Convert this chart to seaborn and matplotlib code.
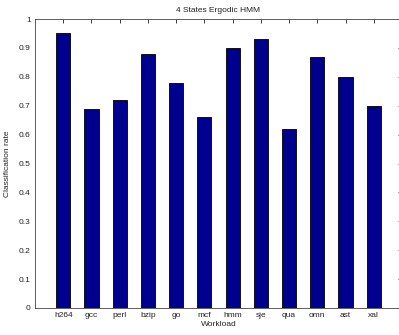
import matplotlib
matplotlib.use("Agg")
import matplotlib.pyplot as plt
import seaborn as sns
import pandas as pd

workloads = ["h264", "gcc", "perl", "bzip", "go", "mcf",
             "hmm", "sje", "qua", "omn", "ast", "xal"]
rates = [0.95, 0.69, 0.72, 0.88, 0.78, 0.66,
         0.90, 0.93, 0.62, 0.87, 0.80, 0.70]
yticks = [0, 0.1, 0.2, 0.3, 0.4, 0.5, 0.6, 0.7, 0.8, 0.9, 1]

sns.set_style("white")
plt.rcParams["font.family"] = ["Liberation Sans", "DejaVu Sans"]

df = pd.DataFrame({"Workload": workloads, "rate": rates})

fig = plt.figure(figsize=(3.99, 3.35), dpi=100)
ax = fig.add_axes([35 / 399, 1 - 308 / 335, 367 / 399, 289 / 335])

sns.barplot(data=df, x="Workload", y="rate", ax=ax, width=0.5,
            color="#00008F", saturation=1, edgecolor="black", linewidth=0.6)

ax.set_xlim(-1, 12)
ax.set_ylim(0, 1)
ax.set_yticks(yticks)
ax.set_yticklabels([f"{t:g}" for t in yticks])
ax.set_xticks(range(len(workloads)))
ax.set_xticklabels(workloads)

ax.tick_params(axis="both", direction="in", length=3, width=0.6,
               labelsize=6, top=True, right=True, pad=3, colors="#222222")
for s in ax.spines.values():
    s.set_visible(True)
    s.set_linewidth(0.6)
    s.set_color("#444444")

ax.set_xlabel("Workload", fontsize=6, labelpad=1, color="#222222")
ax.set_ylabel("Classification rate", fontsize=6, labelpad=6, color="#222222")
ax.set_title("4 States Ergodic HMM", fontsize=6, pad=5, color="#222222")

fig.savefig("out.png", dpi=100)
